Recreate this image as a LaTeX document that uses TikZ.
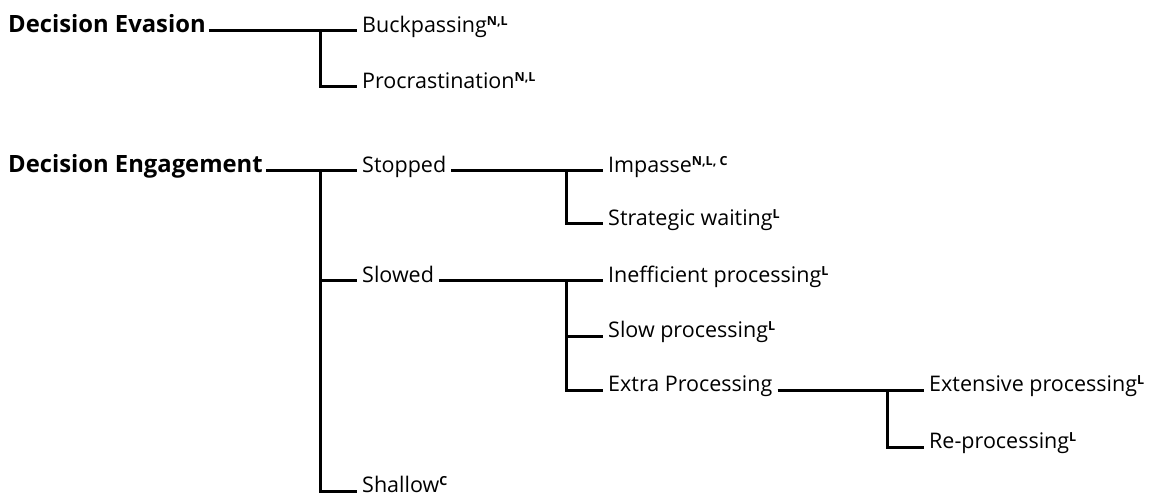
\documentclass[tikz,border=0pt]{standalone}
\usepackage{fontspec}
\setmainfont{Open Sans}
\tikzset{
	branch/.style={draw, line width=3pt},
	leaf/.style={
		anchor=base west,
		inner xsep=5pt,
		font=\fontsize{21.5pt}{25pt}\selectfont},
	root/.style={leaf, inner xsep=3pt, font=\fontsize{23.8pt}{27pt}\selectfont\bfseries},
}
% evidence marks (N, L, C)
\newcommand{\evid}[1]{\raisebox{7pt}{\fontsize{12.5pt}{13pt}\selectfont\bfseries #1}}

\begin{document}
\begin{tikzpicture}[x=1pt, y=-1pt]
		\useasboundingbox (0,0) rectangle (1167,494);
		% evasion
		\node[root] (evasion) at (5,32.5) {Decision Evasion};
		\node[leaf] (buck) at (357,32.5) {Buckpassing\evid{N,L}};
		\node[leaf] (procr) at (357,88.5) {Procrastination\evid{N,L}};
		% engagement
		\node[root] (engage) at (5,172.5) {Decision Engagement};
		\node[leaf] (stopped) at (357,172.5) {Stopped};
		\node[leaf] (impasse) at (603,172.5) {Impasse\evid{N,L, C}};
		\node[leaf] (waiting) at (603,225.5) {Strategic waiting\evid{L}};
		\node[leaf] (slowed) at (357,282.5) {Slowed};
		\node[leaf] (ineff) at (603,282.5) {Inefficient processing\evid{L}};
		\node[leaf] (slow) at (603,337.5) {Slow processing\evid{L}};
		\node[leaf] (extra) at (603,391.5) {Extra Processing\hspace{6pt}};
		\node[leaf] (extensive) at (924,391.5) {Extensive processing\evid{L}};
		\node[leaf] (reproc) at (924,448.5) {Re-processing\evid{L}};
		\node[leaf] (shallow) at (357,492.5) {Shallow\evid{C}};
		
		\coordinate (jev) at (320,31);
		\coordinate (jen) at (320,171);
		\coordinate (jst) at (566,171);
		\coordinate (jsl) at (566,281);
		\coordinate (jex) at (887,390);
		
		\draw[branch] ([yshift=1.5pt]evasion.base east) -- ([yshift=1.5pt]buck.base west);
		\draw[branch] (jev) |- ([yshift=1.5pt]procr.base west);
		
		\draw[branch] ([yshift=1.5pt]engage.base east) -- ([yshift=1.5pt]stopped.base west);
		\draw[branch] (jen) |- ([yshift=1.5pt]slowed.base west);
		\draw[branch] (jen) |- ([yshift=1.5pt]shallow.base west);
		
		\draw[branch] ([yshift=1.5pt]stopped.base east) -- ([yshift=1.5pt]impasse.base west);
		\draw[branch] (jst) |- ([yshift=1.5pt]waiting.base west);
		
		\draw[branch] ([yshift=1.5pt]slowed.base east) -- ([yshift=1.5pt]ineff.base west);
		\draw[branch] (jsl) |- ([yshift=1.5pt]slow.base west);
		\draw[branch] (jsl) |- ([yshift=1.5pt]extra.base west);
		
		\draw[branch] ([yshift=1.5pt]extra.base east) -- ([yshift=1.5pt]extensive.base west);
		\draw[branch] (jex) |- ([yshift=1.5pt]reproc.base west);
		
\end{tikzpicture}
\end{document}
